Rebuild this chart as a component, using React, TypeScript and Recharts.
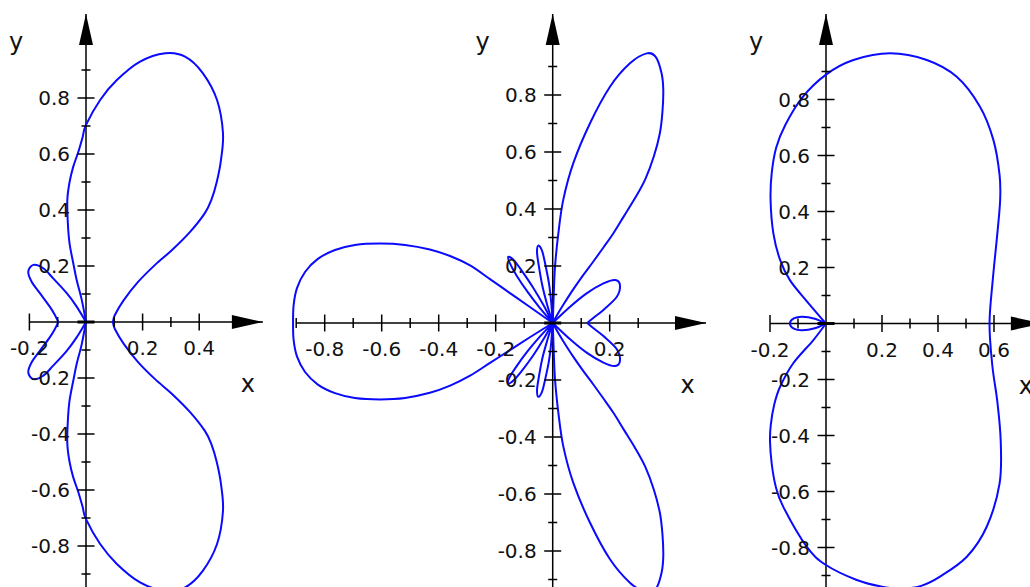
import React from "react";
import { LineChart, Line, XAxis, YAxis, ReferenceLine, ReferenceDot } from "recharts";

type Pt = [number, number];

// left plot: two big lobes meeting at x≈0.1, two small leaves on the left
const oneLobeTop: Pt[] = [
  [0, 0], [-0.015, 0.079], [-0.033, 0.15], [-0.045, 0.21], [-0.058, 0.28], [-0.064, 0.35],
  [-0.066, 0.436], [-0.058, 0.5], [-0.045, 0.555], [-0.027, 0.608], [-0.012, 0.66], [0, 0.704],
  [0.05, 0.793], [0.109, 0.864], [0.191, 0.93], [0.28, 0.96], [0.35, 0.948], [0.412, 0.89],
  [0.463, 0.793], [0.484, 0.675], [0.477, 0.579], [0.462, 0.5], [0.443, 0.436], [0.42, 0.389],
  [0.367, 0.321], [0.304, 0.257], [0.244, 0.204], [0.184, 0.143], [0.134, 0.079], [0.102, 0.025],
  [0.095, 0],
];
const oneLobeBottom: Pt[] = [
  [0, 0], [-0.015, -0.079], [-0.033, -0.15], [-0.045, -0.21], [-0.058, -0.28], [-0.064, -0.35],
  [-0.066, -0.436], [-0.058, -0.5], [-0.045, -0.555], [-0.027, -0.608], [-0.012, -0.66], [0, -0.704],
  [0.05, -0.793], [0.109, -0.864], [0.191, -0.93], [0.28, -0.96], [0.35, -0.948], [0.412, -0.89],
  [0.463, -0.793], [0.484, -0.675], [0.477, -0.579], [0.462, -0.5], [0.443, -0.436], [0.42, -0.389],
  [0.367, -0.321], [0.304, -0.257], [0.244, -0.204], [0.184, -0.143], [0.134, -0.079], [0.102, -0.025],
  [0.095, 0],
];
const oneLeafTop: Pt[] = [
  [0, 0], [-0.033, 0.055], [-0.068, 0.103], [-0.116, 0.156], [-0.151, 0.192], [-0.186, 0.204],
  [-0.204, 0.18], [-0.192, 0.144], [-0.163, 0.103], [-0.128, 0.055], [-0.11, 0.025], [-0.098, 0],
];
const oneLeafBottom: Pt[] = [
  [0, 0], [-0.033, -0.055], [-0.068, -0.103], [-0.116, -0.156], [-0.151, -0.192], [-0.186, -0.204],
  [-0.204, -0.18], [-0.192, -0.144], [-0.163, -0.103], [-0.128, -0.055], [-0.11, -0.025], [-0.098, 0],
];

// middle plot: long lobe to the left, two tall lobes to the right, petals near the origin
const twoLobeLeft: Pt[] = [
  [0, 0], [-0.08, 0.056], [-0.15, 0.105], [-0.22, 0.154], [-0.29, 0.202], [-0.36, 0.235],
  [-0.431, 0.258], [-0.518, 0.274], [-0.606, 0.279], [-0.694, 0.274], [-0.764, 0.256],
  [-0.824, 0.225], [-0.869, 0.179], [-0.897, 0.123], [-0.909, 0.063], [-0.911, 0],
  [-0.909, -0.06], [-0.897, -0.118], [-0.869, -0.172], [-0.824, -0.216], [-0.764, -0.246],
  [-0.694, -0.263], [-0.606, -0.268], [-0.518, -0.263], [-0.431, -0.245], [-0.36, -0.22],
  [-0.29, -0.185], [-0.22, -0.14], [-0.15, -0.095], [-0.08, -0.05], [0, 0],
];
const twoLobeTop: Pt[] = [
  [0, 0], [0.003, 0.081], [0.008, 0.196], [0.02, 0.316], [0.037, 0.432], [0.072, 0.56],
  [0.131, 0.701], [0.201, 0.829], [0.271, 0.911], [0.33, 0.946], [0.362, 0.933], [0.382, 0.876],
  [0.388, 0.818], [0.385, 0.74], [0.376, 0.666], [0.355, 0.585], [0.325, 0.505], [0.29, 0.44],
  [0.25, 0.375], [0.213, 0.315], [0.178, 0.265], [0.142, 0.215], [0.107, 0.168], [0.072, 0.118],
  [0.036, 0.062], [0.012, 0.022], [0, 0],
];
const twoLobeBottom: Pt[] = [
  [0, 0], [0.003, -0.081], [0.008, -0.196], [0.02, -0.316], [0.037, -0.432], [0.072, -0.56],
  [0.131, -0.701], [0.201, -0.829], [0.271, -0.911], [0.33, -0.946], [0.362, -0.933], [0.382, -0.876],
  [0.388, -0.818], [0.385, -0.74], [0.376, -0.666], [0.355, -0.585], [0.325, -0.505], [0.29, -0.44],
  [0.25, -0.375], [0.213, -0.315], [0.178, -0.265], [0.142, -0.215], [0.107, -0.168], [0.072, -0.118],
  [0.036, -0.062], [0.012, -0.022], [0, 0],
];
const twoLeafTop: Pt[] = [
  [0, 0], [0.061, 0.057], [0.119, 0.104], [0.178, 0.139], [0.219, 0.151], [0.236, 0.133],
  [0.225, 0.092], [0.178, 0.046], [0.14, 0.016], [0.121, 0],
];
const twoLeafBottom: Pt[] = [
  [0.121, 0], [0.14, -0.016], [0.178, -0.046], [0.225, -0.092], [0.236, -0.133], [0.219, -0.151],
  [0.178, -0.139], [0.119, -0.104], [0.061, -0.057], [0, 0],
];
const twoPetalOuterTop: Pt[] = [
  [0, 0], [-0.032, 0.062], [-0.068, 0.123], [-0.107, 0.181], [-0.135, 0.219], [-0.156, 0.232],
  [-0.15, 0.209], [-0.127, 0.167], [-0.088, 0.109], [-0.046, 0.054], [0, 0],
];
const twoPetalInnerTop: Pt[] = [
  [0, 0], [-0.005, 0.07], [-0.013, 0.138], [-0.026, 0.206], [-0.037, 0.252], [-0.05, 0.272],
  [-0.055, 0.248], [-0.049, 0.202], [-0.037, 0.134], [-0.02, 0.066], [0, 0],
];
const twoPetalOuterBottom: Pt[] = [
  [0, 0], [-0.033, -0.058], [-0.068, -0.113], [-0.107, -0.166], [-0.136, -0.2], [-0.156, -0.212],
  [-0.151, -0.19], [-0.127, -0.152], [-0.088, -0.099], [-0.045, -0.048], [0, 0],
];
const twoPetalInnerBottom: Pt[] = [
  [0, 0], [-0.005, -0.067], [-0.013, -0.132], [-0.026, -0.196], [-0.037, -0.24], [-0.05, -0.259],
  [-0.055, -0.236], [-0.049, -0.192], [-0.037, -0.127], [-0.02, -0.064], [0, 0],
];

// right plot: kidney-shaped outline plus a tiny loop on the left
const threeOuter: Pt[] = [
  [0, 0], [-0.021, 0.024], [-0.069, 0.08], [-0.129, 0.155], [-0.164, 0.227], [-0.188, 0.322],
  [-0.198, 0.441], [-0.194, 0.536], [-0.178, 0.628], [-0.145, 0.71], [-0.085, 0.807], [0, 0.889],
  [0.098, 0.941], [0.229, 0.965], [0.36, 0.941], [0.467, 0.881], [0.55, 0.774], [0.598, 0.655],
  [0.62, 0.53], [0.622, 0.441], [0.612, 0.322], [0.596, 0.16], [0.584, 0],
  [0.594, -0.15], [0.612, -0.28], [0.624, -0.42], [0.62, -0.571], [0.574, -0.726],
  [0.503, -0.833], [0.407, -0.904], [0.34, -0.937], [0.27, -0.947], [0.2, -0.94], [0.11, -0.916],
  [0, -0.8625], [-0.069, -0.797], [-0.153, -0.654], [-0.18, -0.58], [-0.194, -0.5], [-0.2, -0.42],
  [-0.197, -0.36], [-0.185, -0.29], [-0.164, -0.226], [-0.117, -0.142], [-0.045, -0.059], [0, 0],
];
const threeLoop: Pt[] = [
  [0, 0], [-0.04, 0.017], [-0.085, 0.024], [-0.115, 0.018], [-0.129, 0], [-0.115, -0.018],
  [-0.085, -0.024], [-0.04, -0.017], [0, 0],
];

// axis ticks and labelled values
const oneXTicks = [-0.2, -0.1, 0.1, 0.2, 0.3, 0.4];
const oneXLabels = [-0.2, 0.2, 0.4];
const twoXTicks = [-0.9, -0.8, -0.7, -0.6, -0.5, -0.4, -0.3, -0.2, -0.1, 0.1, 0.2, 0.3];
const twoXLabels = [-0.8, -0.6, -0.4, -0.2, 0.2];
const threeXTicks = [-0.2, -0.1, 0.1, 0.2, 0.3, 0.4, 0.5, 0.6];
const threeXLabels = [-0.2, 0.2, 0.4, 0.6];
const yTicks = [-0.9, -0.8, -0.7, -0.6, -0.5, -0.4, -0.3, -0.2, -0.1, 0.1, 0.2, 0.3, 0.4, 0.5, 0.6, 0.7, 0.8, 0.9];
const yLabels = [-0.8, -0.6, -0.4, -0.2, 0.2, 0.4, 0.6, 0.8];

const H = 587;
const FONT = "DejaVu Sans";
const BLUE = "#0a0aff";

const rows = (pts: Pt[]) => pts.map(([x, y]) => ({ x, y }));
const fmt = (v: number) => v.toFixed(1);
const isLabel = (list: number[], v: number) => list.some((l) => Math.abs(l - v) < 1e-9);

// Catmull-Rom through every point, handed to d3's line() by Recharts
function catmullRom(context: any) {
  let pts: number[][] = [];
  return {
    areaStart() {},
    areaEnd() {},
    lineStart() {
      pts = [];
    },
    lineEnd() {
      const n = pts.length;
      if (!n) return;
      context.moveTo(pts[0][0], pts[0][1]);
      for (let i = 0; i < n - 1; i++) {
        const p0 = pts[i - 1] || pts[i];
        const p1 = pts[i];
        const p2 = pts[i + 1];
        const p3 = pts[i + 2] || p2;
        context.bezierCurveTo(
          p1[0] + (p2[0] - p0[0]) / 6,
          p1[1] + (p2[1] - p0[1]) / 6,
          p2[0] - (p3[0] - p1[0]) / 6,
          p2[1] - (p3[1] - p1[1]) / 6,
          p2[0],
          p2[1]
        );
      }
    },
    point(x: number, y: number) {
      pts.push([+x, +y]);
    },
  };
}

type PlotProps = {
  left: number;
  width: number;
  ox: number; // origin, px inside the chart
  oy: number;
  sx: number; // px per unit
  sy: number;
  curves: Pt[][];
  xTicks: number[];
  xLabels: number[];
  xFrom: number;
  xTip: number;
  yTip: number;
  xName: number;
};

function Plot({ left, width, ox, oy, sx, sy, curves, xTicks, xLabels, xFrom, xTip, yTip, xName }: PlotProps) {
  const xDomain = [-ox / sx, (width - ox) / sx];
  const yDomain = [(oy - H) / sy, oy / sy];

  const xTickShape = (major: boolean, v: number) => (p: any) => {
    const h = major ? 8.5 : 5;
    return (
      <g>
        <line x1={p.cx} x2={p.cx} y1={p.cy - h} y2={p.cy + h} stroke="#000" strokeWidth={1.5} />
        {major && (
          <text x={p.cx} y={p.cy + 33} textAnchor="middle" fontFamily={FONT} fontSize={20} fill="#111">
            {fmt(v)}
          </text>
        )}
      </g>
    );
  };

  const yTickShape = (major: boolean, v: number) => (p: any) => {
    const h = major ? 8.5 : 4.5;
    return (
      <g>
        <line x1={p.cx - h} x2={p.cx + h} y1={p.cy} y2={p.cy} stroke="#000" strokeWidth={1.5} />
        {major && (
          <text x={p.cx - 16} y={p.cy + 7} textAnchor="end" fontFamily={FONT} fontSize={20} fill="#111">
            {fmt(v)}
          </text>
        )}
      </g>
    );
  };

  return (
    <div style={{ position: "absolute", left, top: 0, width, height: H }}>
      <LineChart width={width} height={H} margin={{ top: 0, right: 0, bottom: 0, left: 0 }}>
        <XAxis type="number" dataKey="x" domain={xDomain} allowDataOverflow hide />
        <YAxis type="number" dataKey="y" domain={yDomain} allowDataOverflow hide />

        <ReferenceLine
          segment={[{ x: xFrom, y: 0 }, { x: Math.min(xTip, xDomain[1]), y: 0 }]}
          stroke="#000"
          strokeWidth={1.5}
          ifOverflow="visible"
        />
        <ReferenceLine
          segment={[{ x: 0, y: yDomain[0] }, { x: 0, y: yTip }]}
          stroke="#000"
          strokeWidth={1.5}
          ifOverflow="visible"
        />

        {xTicks.map((v) => (
          <ReferenceDot key={`xt${v}`} x={v} y={0} ifOverflow="visible" shape={xTickShape(isLabel(xLabels, v), v)} />
        ))}
        {yTicks.map((v) => (
          <ReferenceDot key={`yt${v}`} x={0} y={v} ifOverflow="visible" shape={yTickShape(isLabel(yLabels, v), v)} />
        ))}
        <ReferenceDot
          x={0}
          y={0}
          ifOverflow="visible"
          shape={(p: any) => (
            <line x1={p.cx - 8.5} x2={p.cx + 8.5} y1={p.cy} y2={p.cy} stroke="#000" strokeWidth={3} />
          )}
        />

        {/* arrow heads and axis names */}
        <ReferenceDot
          x={xTip}
          y={0}
          ifOverflow="visible"
          shape={(p: any) => (
            <polygon points={`${p.cx},${p.cy} ${p.cx - 31},${p.cy - 7} ${p.cx - 31},${p.cy + 7}`} fill="#000" />
          )}
        />
        <ReferenceDot
          x={0}
          y={yTip}
          ifOverflow="visible"
          shape={(p: any) => (
            <g>
              <polygon points={`${p.cx},${p.cy} ${p.cx - 7},${p.cy + 31} ${p.cx + 7},${p.cy + 31}`} fill="#000" />
              <text x={p.cx - 70} y={p.cy + 36} textAnchor="middle" fontFamily={FONT} fontSize={24} fill="#111">
                y
              </text>
            </g>
          )}
        />
        <ReferenceDot
          x={xName}
          y={0}
          ifOverflow="visible"
          shape={(p: any) => (
            <text x={p.cx} y={p.cy + 70} textAnchor="middle" fontFamily={FONT} fontSize={24} fill="#111">
              x
            </text>
          )}
        />

        {curves.map((c, i) => (
          <Line
            key={i}
            data={rows(c)}
            dataKey="y"
            type={catmullRom as any}
            stroke={BLUE}
            strokeWidth={2}
            dot={false}
            activeDot={false}
            isAnimationActive={false}
          />
        ))}
      </LineChart>
    </div>
  );
}

export default function App() {
  return (
    <div style={{ position: "absolute", left: 0, top: 0, width: 1030, height: H, background: "#fff", overflow: "hidden" }}>
      <Plot
        left={0}
        width={280}
        ox={86}
        oy={322}
        sx={283}
        sy={280}
        curves={[oneLobeTop, oneLobeBottom, oneLeafTop, oneLeafBottom]}
        xTicks={oneXTicks}
        xLabels={oneXLabels}
        xFrom={-0.2}
        xTip={0.625}
        yTip={1.1}
        xName={0.572}
      />
      <Plot
        left={280}
        width={440}
        ox={272.7}
        oy={323}
        sx={285}
        sy={285}
        curves={[
          twoLobeLeft,
          twoLobeTop,
          twoLobeBottom,
          twoLeafTop,
          twoLeafBottom,
          twoPetalOuterTop,
          twoPetalInnerTop,
          twoPetalOuterBottom,
          twoPetalInnerBottom,
        ]}
        xTicks={twoXTicks}
        xLabels={twoXLabels}
        xFrom={-0.9}
        xTip={0.538}
        yTip={1.084}
        xName={0.473}
      />
      <Plot
        left={740}
        width={290}
        ox={86}
        oy={323.5}
        sx={280}
        sy={280}
        curves={[threeOuter, threeLoop]}
        xTicks={threeXTicks}
        xLabels={threeXLabels}
        xFrom={-0.2}
        xTip={0.771}
        yTip={1.105}
        xName={0.714}
      />
    </div>
  );
}
